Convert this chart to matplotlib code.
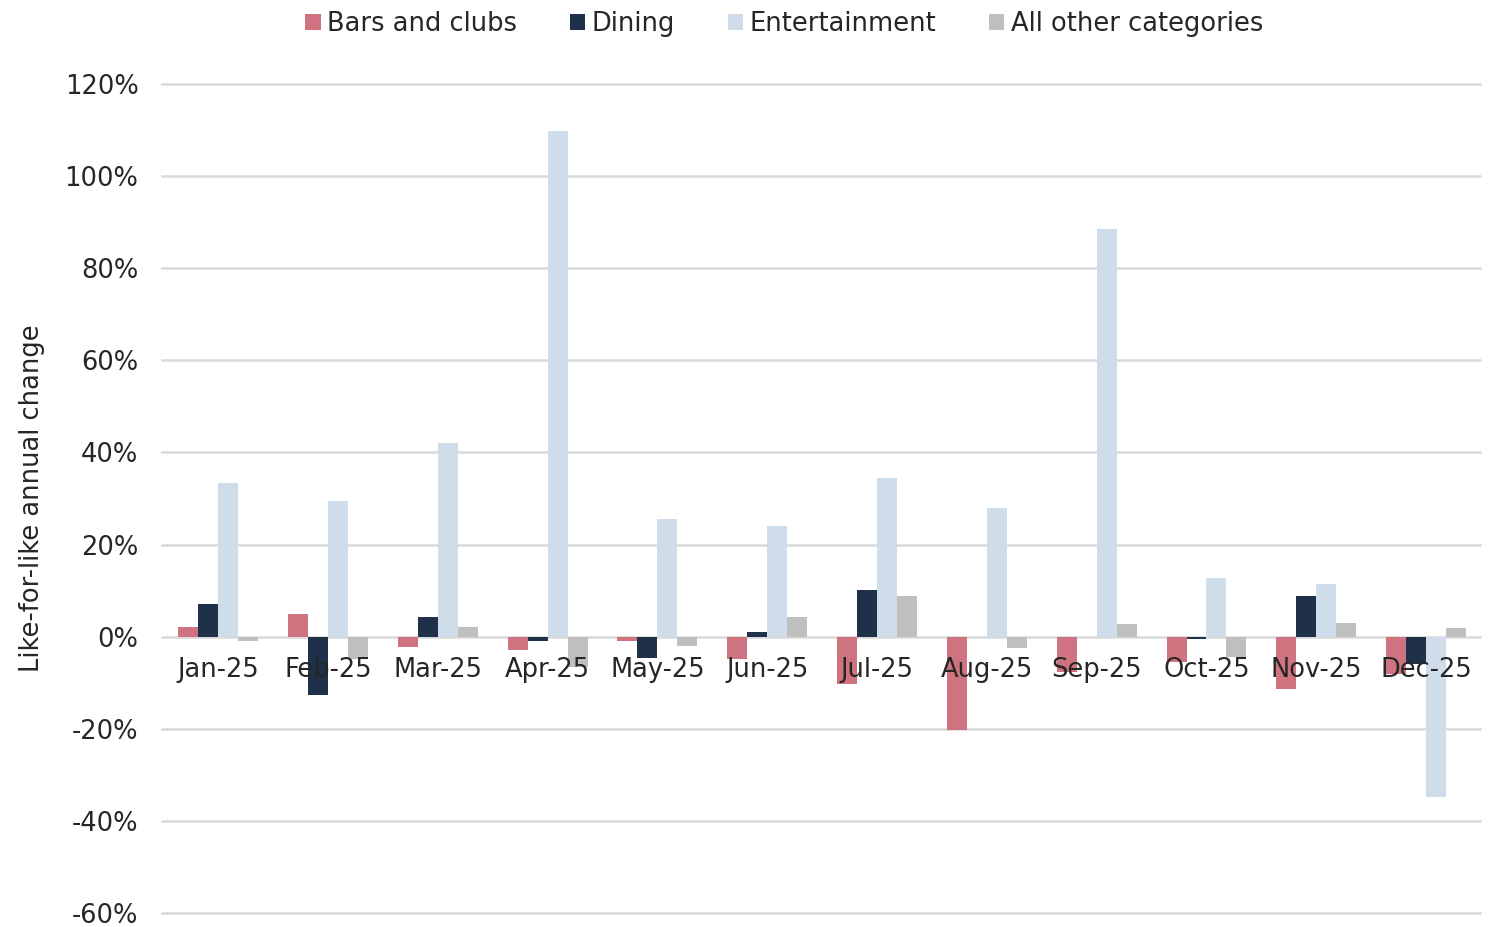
import matplotlib.pyplot as plt
import numpy as np

# ── Data ──────────────────────────────────────────────────────────────────────
months = ['Jan-25', 'Feb-25', 'Mar-25', 'Apr-25', 'May-25', 'Jun-25',
          'Jul-25', 'Aug-25', 'Sep-25', 'Oct-25', 'Nov-25', 'Dec-25']

bars_clubs    = [2.1, 4.9, -2.3, -2.9, -0.9, -4.9, -10.3, -20.3, -7.6, -5.6, -11.3, -8.2]
dining        = [7.1, -12.7, 4.3, -0.9, -4.7, 1.0, 10.1, 0.0, 0.0, -0.5, 8.9, -5.9]
entertainment = [33.3, 29.4, 42.0, 109.9, 25.5, 24.0, 34.4, 27.9, 88.6, 12.7, 11.5, -34.8]
other         = [-1.0, -4.9, 2.1, -6.6, -2.1, 4.3, 8.9, -2.4, 2.7, -4.5, 2.9, 1.9]

series = ['Bars and clubs', 'Dining', 'Entertainment', 'All other categories']
colors = ['#D07380', '#1F3049', '#CFDCEA', '#BFBFBF']
yticks = list(range(-60, 121, 20))

# ── Style ─────────────────────────────────────────────────────────────────────
plt.rcParams['font.family'] = ['DejaVu Sans']
TEXT_COL = '#262626'
GRID_COL = '#D9D9D9'
FS = 18.5

fig = plt.figure(figsize=(14.88, 9.27), dpi=100)
ax = fig.add_axes([0.1089, 0.0151, 0.8857, 0.8943])

# gridlines below the bars, month labels above them
for v in yticks:
    ax.axhline(v, color=GRID_COL, linewidth=1.8, zorder=1, clip_on=False)

x = np.arange(len(months))
bw = 0.182
for i, (name, vals, col) in enumerate(zip(series, [bars_clubs, dining, entertainment, other], colors)):
    ax.bar(x + (i - 1.5) * bw, vals, width=bw, color=col, label=name, zorder=2)

ax.set_xlim(-0.51, 11.49)
ax.set_ylim(-60, 120)

ax.spines['bottom'].set_position(('data', 0))
ax.spines['bottom'].set_visible(False)
for s in ['top', 'right', 'left']:
    ax.spines[s].set_visible(False)

ax.set_yticks(yticks)
ax.set_yticklabels([f'{v}%' for v in yticks], fontsize=FS, color=TEXT_COL)
ax.tick_params(axis='y', length=0, pad=17)

ax.set_xticks(x)
ax.set_xticklabels(months, fontsize=FS, color=TEXT_COL)
ax.tick_params(axis='x', length=0, pad=15)
ax.xaxis.set_zorder(4)

ax.set_ylabel('Like-for-like annual change', fontsize=FS, color=TEXT_COL, labelpad=14)

leg = fig.legend(loc='upper center', bbox_to_anchor=(0.527, 1.013), ncol=4, frameon=False,
                 fontsize=FS, handlelength=0.6, handleheight=0.6, handletextpad=0.25,
                 columnspacing=2.05)
for t in leg.get_texts():
    t.set_color(TEXT_COL)

plt.savefig('out.png', dpi=100, facecolor='white')
